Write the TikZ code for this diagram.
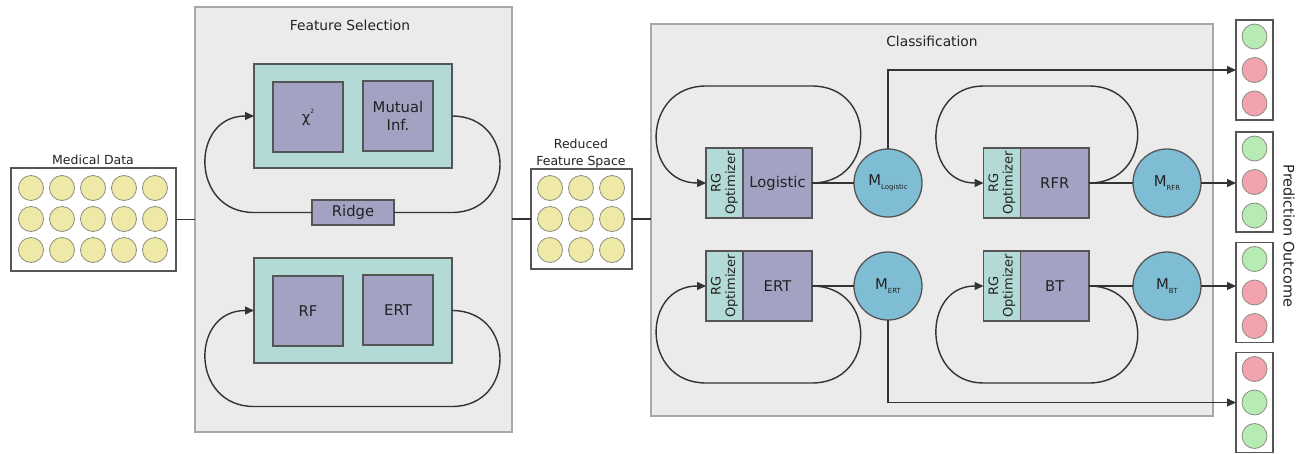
\documentclass[tikz,border=0pt]{standalone}
\usepackage{fontspec}
\setmainfont{DejaVu Sans}
\usetikzlibrary{arrows.meta,calc}

\definecolor{panelfill}{HTML}{EBEBEB}
\definecolor{panelline}{HTML}{A8A8A8}
\definecolor{boxline}{HTML}{555555}
\definecolor{tealfill}{HTML}{B3DAD6}
\definecolor{algofill}{HTML}{A4A2C3}
\definecolor{modelfill}{HTML}{7FBDD4}
\definecolor{dotyellow}{HTML}{EEE9A6}
\definecolor{dotgreen}{HTML}{B6ECB4}
\definecolor{dotred}{HTML}{F3A3AE}
\definecolor{dotline}{HTML}{8C8C80}
\definecolor{ink}{HTML}{222222}
\definecolor{wire}{HTML}{333333}

\newcommand\modelsub[1]{M\raisebox{-0.45ex}{\fontsize{7}{7}\selectfont #1}}

\begin{document}
\begin{tikzpicture}[x=1pt,y=-1pt,
  every node/.style={inner sep=0pt,outer sep=0pt,text=ink},
  panel/.style={draw=panelline,fill=panelfill,line width=1.8pt},
  holder/.style={draw=boxline,fill=white,line width=1.4pt,minimum width=#1},
  holder/.default=37,
  caption/.style={font=\fontsize{12.5}{17.5}\selectfont,align=center},
  heading/.style={font=\fontsize{13.8}{16}\selectfont},
  dot/.style={circle,draw=dotline,line width=0.8pt,minimum size=25pt,fill=#1},
  tealbox/.style={draw=boxline,fill=tealfill,line width=1.3pt,minimum width=198pt},
  algo/.style={draw=boxline,fill=algofill,line width=1.3pt,font=\fontsize{14.8}{17.5}\selectfont,align=center},
  optim/.style={draw=boxline,fill=tealfill,line width=1.3pt,minimum width=37pt,minimum height=70pt,anchor=east},
  optimtext/.style={rotate=90,font=\fontsize{13}{14.5}\selectfont,align=center},
  model/.style={circle,draw=boxline,fill=modelfill,line width=1.3pt,minimum size=68pt,font=\fontsize{14.8}{17}\selectfont},
  link/.style={draw=wire,line width=1.4pt},
  tip/.style={link,-{Triangle[length=9pt,width=8pt]}}
]
\useasboundingbox (0,0) rectangle (1307,453);

% ---------- panels ----------
\node[panel,minimum width=317pt,minimum height=425pt] (fs) at (353.5,219.5) {};
\node[heading] (fstitle) at (350,25) {Feature Selection};
\node[panel,minimum width=562pt,minimum height=392pt] (cls) at (932,220) {};
\node[heading] (clstitle) at (932,41) {Classification};

% ---------- medical data ----------
\node[holder=165pt,minimum height=103pt] (md) at (93.5,219.5) {};
\node[caption] (mdtitle) at (93,160) {Medical Data};
\foreach \r/\yy in {1/188,2/219,3/250}
  \foreach \c/\xx in {1/31,2/62,3/93,4/124,5/155}
    \node[dot=dotyellow] (md-\r-\c) at (\xx,\yy) {};

% ---------- reduced feature space ----------
\node[holder=101pt,minimum height=100pt] (rfs) at (581.5,219) {};
\node[caption] (rfstitle) at (581,153.5) {Reduced\\Feature Space};
\foreach \r/\yy in {1/188,2/219,3/250}
  \foreach \c/\xx in {1/550,2/581,3/612}
    \node[dot=dotyellow] (rfs-\r-\c) at (\xx,\yy) {};

\draw[link] (md.east) -- (md.east -| fs.west);
\draw[link] (fs.east |- rfs.west) -- (rfs.west);
\draw[link] (rfs.east) -- (rfs.east -| cls.west);

% ---------- feature selection ----------
\node[tealbox,minimum height=104pt] (fsA) at (353,116) {};
\node[algo,minimum width=70pt,minimum height=70pt] (chi) at (308,117) {χ\raisebox{1.1ex}{\fontsize{6}{6}\selectfont 2}};
\node[algo,minimum width=70pt,minimum height=70pt] (mi) at (398,116) {Mutual\\Inf.};
\node[algo,minimum width=82pt,minimum height=25pt] (ridge) at (353,212.5) {Ridge};

\draw[link] (fsA.east) .. controls +(64,0) and +(64,0) .. (fsA.east |- ridge.east) -- (ridge.east);
\draw[tip] (ridge.west) -- (fsA.west |- ridge.west) .. controls +(-64,0) and +(-64,0) .. (fsA.west);

\node[tealbox,minimum height=105pt] (fsB) at (353,310.5) {};
\node[algo,minimum width=70pt,minimum height=70pt] (rf) at (308,311) {RF};
\node[algo,minimum width=70pt,minimum height=70pt] (ertfs) at (398,310) {ERT};

\coordinate (fsBbr) at ($(fsB.east)+(0,96)$);
\coordinate (fsBbl) at ($(fsB.west)+(0,96)$);
\draw[tip] (fsB.east) .. controls +(64,0) and +(64,0) .. (fsBbr) -- (fsBbl)
  .. controls +(-64,0) and +(-64,0) .. (fsB.west);

% ---------- classification ----------
% logistic
\node[algo,minimum width=69pt,minimum height=70pt,anchor=west] (logi) at (743,183) {Logistic};
\node[optim] (rgA) at (logi.west) {};
\node[optimtext] at (rgA.center) {RG\\Optimizer};
\node[model] (mlog) at (888,183) {\modelsub{Logistic}};
\coordinate (logtr) at ($(logi.east)+(0,-97)$);
\coordinate (logtl) at ($(rgA.west)+(0,-97)$);
\draw[tip] (logi.east) .. controls +(65,0) and +(65,0) .. (logtr) -- (logtl)
  .. controls +(-65,0) and +(-65,0) .. (rgA.west);
\draw[link] (logi.east) -- (mlog.west);

% RFR
\node[algo,minimum width=68.5pt,minimum height=70pt,anchor=west] (rfr) at (1020.5,183) {RFR};
\node[optim] (rgB) at (rfr.west) {};
\node[optimtext] at (rgB.center) {RG\\Optimizer};
\node[model] (mrfr) at (1167,183) {\modelsub{RFR}};
\coordinate (rfrtr) at ($(rfr.east)+(0,-97)$);
\coordinate (rfrtl) at ($(rgB.west)+(0,-97)$);
\draw[tip] (rfr.east) .. controls +(65,0) and +(65,0) .. (rfrtr) -- (rfrtl)
  .. controls +(-62,0) and +(-62,0) .. (rgB.west);
\draw[link] (rfr.east) -- (mrfr.west);

% ERT
\node[algo,minimum width=69pt,minimum height=70pt,anchor=west] (ert) at (743,286) {ERT};
\node[optim] (rgC) at (ert.west) {};
\node[optimtext] at (rgC.center) {RG\\Optimizer};
\node[model] (mert) at (888,286) {\modelsub{ERT}};
\coordinate (ertbr) at ($(ert.east)+(0,97)$);
\coordinate (ertbl) at ($(rgC.west)+(0,97)$);
\draw[tip] (ert.east) .. controls +(65,0) and +(65,0) .. (ertbr) -- (ertbl)
  .. controls +(-65,0) and +(-65,0) .. (rgC.west);
\draw[link] (ert.east) -- (mert.west);

% BT
\node[algo,minimum width=68.5pt,minimum height=70pt,anchor=west] (bt) at (1020.5,286) {BT};
\node[optim] (rgD) at (bt.west) {};
\node[optimtext] at (rgD.center) {RG\\Optimizer};
\node[model] (mbt) at (1167,286) {\modelsub{BT}};
\coordinate (btbr) at ($(bt.east)+(0,97)$);
\coordinate (btbl) at ($(rgD.west)+(0,97)$);
\draw[tip] (bt.east) .. controls +(65,0) and +(65,0) .. (btbr) -- (btbl)
  .. controls +(-62,0) and +(-62,0) .. (rgD.west);
\draw[link] (bt.east) -- (mbt.west);

% ---------- prediction outcomes ----------
\foreach \n/\yy/\ca/\cb/\cc in {1/70/dotgreen/dotred/dotred,
                                2/182/dotgreen/dotred/dotgreen,
                                3/292.5/dotgreen/dotred/dotred,
                                4/402.5/dotred/dotgreen/dotgreen}{
  \node[holder,minimum height=100pt] (out\n) at (1254.5,\yy) {};
  \node[dot=\ca] (out\n-1) at ($(out\n.center)+(0,-33.5)$) {};
  \node[dot=\cb] (out\n-2) at (out\n.center) {};
  \node[dot=\cc] (out\n-3) at ($(out\n.center)+(0,33.5)$) {};
}
\node[rotate=-90,font=\fontsize{14.5}{17}\selectfont] (predlabel) at (1289,236) {Prediction Outcome};

\draw[tip] (mlog.north) |- (out1.west);
\draw[tip] (mrfr.east) -- (out2.west |- mrfr.east);
\draw[tip] (mbt.east) -- (out3.west |- mbt.east);
\draw[tip] (mert.south) |- (out4.west);
\end{tikzpicture}
\end{document}
